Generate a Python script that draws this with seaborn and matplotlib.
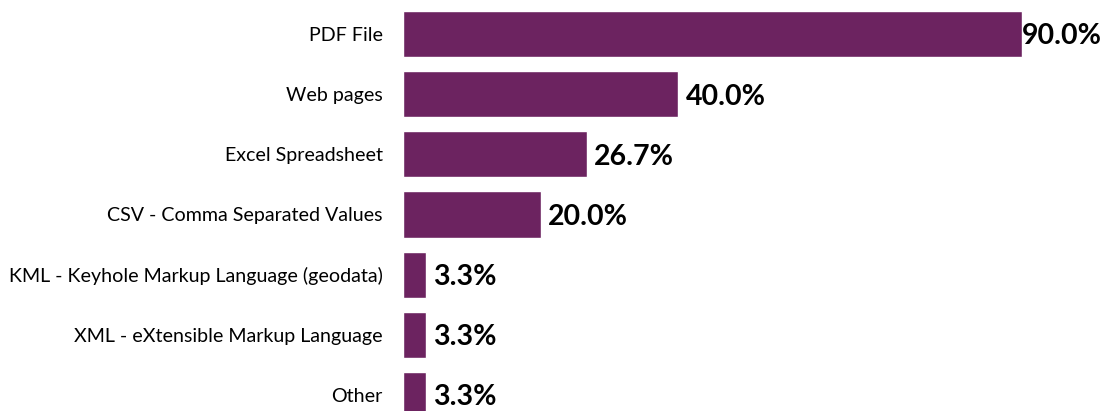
import matplotlib
matplotlib.use("Agg")
import matplotlib.pyplot as plt
import seaborn as sns
import pandas as pd

categories = [
    "PDF File",
    "Web pages",
    "Excel Spreadsheet",
    "CSV - Comma Separated Values",
    "KML - Keyhole Markup Language (geodata)",
    "XML - eXtensible Markup Language",
    "Other",
]
shares = [90.0, 40.0, 26.7, 20.0, 3.3, 3.3, 3.3]

df = pd.DataFrame({"category": categories, "share": shares})

sns.set_theme(style="white")
plt.rcParams["font.family"] = ["Lato", "DejaVu Sans"]

fig = plt.figure(figsize=(11.05, 4.11), dpi=100)
ax = fig.add_axes([0.3647, 0.0, 0.6226, 1.0])

bar_color = "#6C2360"
sns.barplot(data=df, x="share", y="category", orient="h", color=bar_color,
            saturation=1, width=0.765, ax=ax)

ax.set_xlim(0, 100)
ax.set_ylim(6.266, -0.565)
ax.set_xlabel("")
ax.set_ylabel("")
ax.set_xticks([])
ax.tick_params(axis="y", length=0, pad=14.5, labelsize=14.1, labelcolor="#000000")
for s in ax.spines.values():
    s.set_visible(False)

for i, v in enumerate(shares):
    pad = 0.0 if v > 80 else 1.1
    ax.text(v + pad, i + 0.04, f"{v:.1f}%", va="center", ha="left",
            fontsize=20.5, fontweight="bold", color="#000000", clip_on=False)

fig.savefig("out.png", dpi=100)
